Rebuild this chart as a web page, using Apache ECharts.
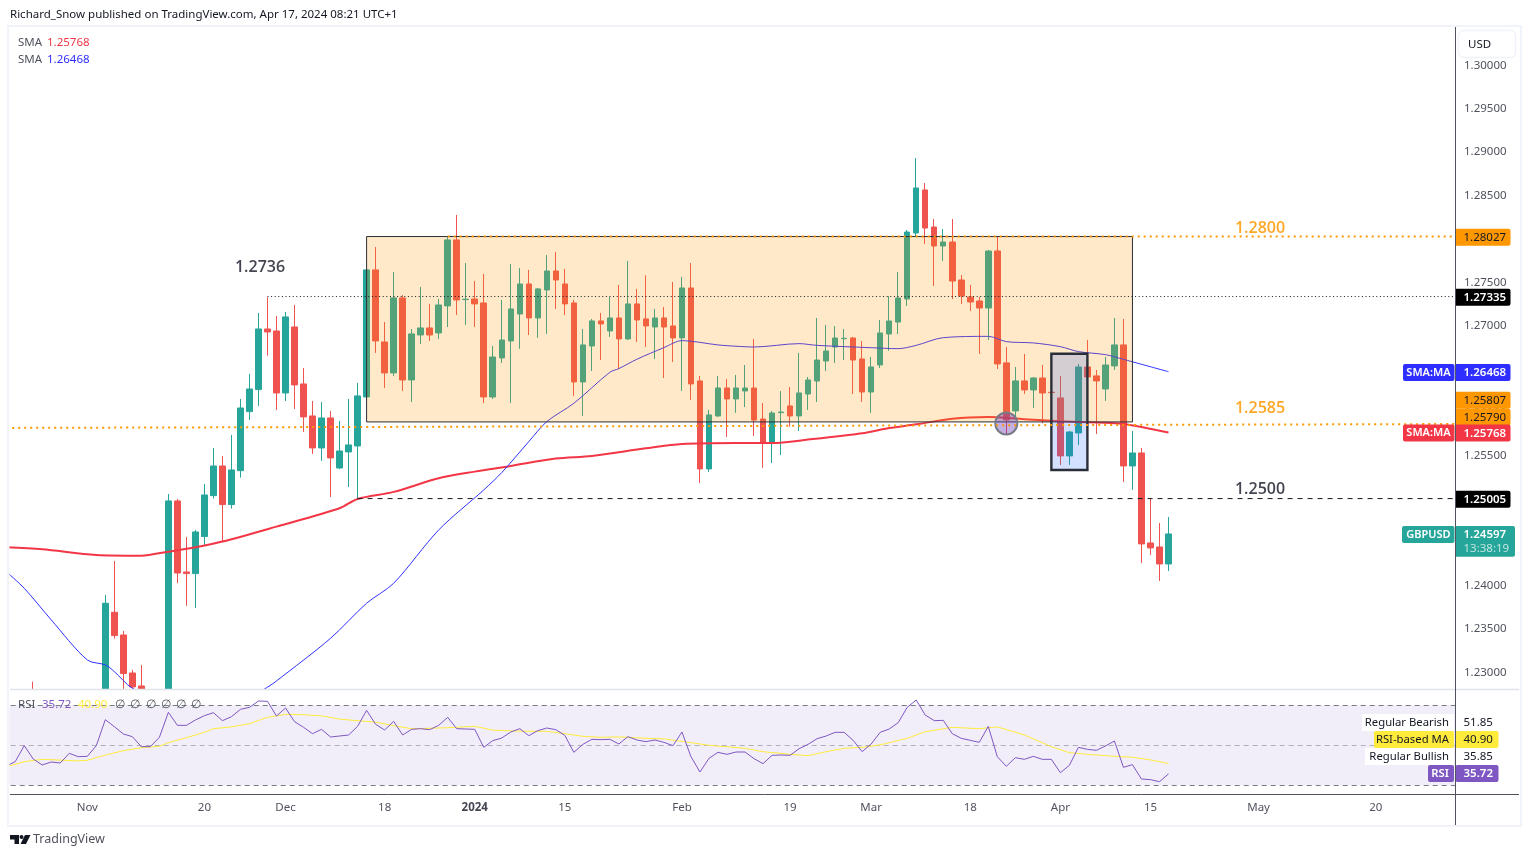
<!DOCTYPE html>
<html><head><meta charset="utf-8">
<style>html,body{margin:0;padding:0;background:#fff}#c{width:1529px;height:857px}</style>
<script src="https://cdn.jsdelivr.net/npm/echarts@6/dist/echarts.min.js"></script>
</head><body><div id="c"></div>
<script>
const opens=[null,null,null,1.2270,null,null,null,null,null,null,
null,1.2235,1.23694,1.23432,1.22994,1.22844,null,null,1.2270,1.24978,
1.24159,1.2414,1.24567,1.25039,1.25381,1.24936,1.25327,1.26008,1.26262,1.26961,
1.26938,1.26223,1.26984,1.26327,1.25958,1.25589,1.25935,1.25358,1.25543,1.25612,
1.26177,1.27642,1.26811,1.26454,1.27319,1.26373,1.26892,1.26973,1.26915,1.27227,
1.27988,1.273,1.27307,1.27261,1.26177,1.26627,1.26823,1.27134,1.2748,1.27088,
1.27411,1.2763,1.2748,1.27261,1.2635,1.26765,1.27054,1.26938,1.27088,1.26846,
1.2725,1.27077,1.26984,1.27088,1.26996,1.26858,1.27434,1.26362,1.25347,1.25958,
1.26281,1.26154,1.26246,1.2628,1.25923,1.25646,1.25996,1.26073,1.25958,1.26211,
1.26361,1.26592,1.26753,1.26849,1.26857,1.26615,1.26234,1.26546,1.26903,1.27041,
1.27307,1.28068,1.28564,1.28137,1.27918,1.27964,1.27526,1.2733,1.27284,1.27203,
1.27861,1.2657,1.26016,1.26362,1.26258,1.26396,1.26231,1.26166,1.25497,1.25762,
1.26523,1.2642,1.26269,1.26535,1.26777,1.25381,1.25531,1.24493,1.24447,1.24251];
const closes=[null,null,null,1.2262,null,null,null,null,null,null,
null,1.23798,1.23425,1.22987,1.22833,1.2265,null,null,1.24978,1.24147,
1.2414,1.2462,1.25047,1.25381,1.24936,1.25335,1.2605,1.26269,1.26961,1.26927,
1.26223,1.271,1.26316,1.25947,1.25589,1.25935,1.25474,1.25554,1.25624,1.26189,
1.27642,1.26823,1.26454,1.27319,1.26373,1.26904,1.26973,1.26892,1.27238,1.27988,
1.27296,1.27304,1.2725,1.26177,1.26638,1.26834,1.27192,1.2748,1.27088,1.27423,
1.2763,1.27526,1.2725,1.2635,1.26777,1.27054,1.27019,1.27088,1.26846,1.2725,
1.27065,1.26996,1.27088,1.26984,1.26858,1.27434,1.26327,1.25347,1.2597,1.26281,
1.26154,1.26281,1.2628,1.25911,1.25646,1.25992,1.26003,1.25958,1.26223,1.26373,
1.26603,1.26707,1.26857,1.26853,1.26603,1.26234,1.26523,1.26915,1.27053,1.27318,
1.28079,1.28587,1.28125,1.27918,1.27964,1.27514,1.27341,1.27272,1.27203,1.2786,
1.26558,1.25912,1.26362,1.26258,1.26396,1.26223,1.26227,1.25497,1.25773,1.26523,
1.26408,1.26362,1.26546,1.26777,1.25381,1.25531,1.24482,1.24436,1.24251,1.24597];
const highs=[null,null,null,1.22894,null,null,null,null,null,null,
null,1.23894,1.24286,1.23479,1.23029,1.23087,null,null,1.25058,1.25001,
1.24563,1.24643,1.25174,1.25589,1.25497,1.25739,1.26154,1.26442,1.27146,1.27327,
1.27111,1.27157,1.27238,1.26512,1.26131,1.2612,1.26016,1.259,1.26154,1.26339,
1.2765,1.27907,1.27042,1.27619,1.27353,1.26961,1.27446,1.2725,1.27307,1.28022,
1.28276,1.27722,1.27515,1.27596,1.26765,1.27296,1.27711,1.27665,1.27642,1.27434,
1.27815,1.2785,1.27653,1.27296,1.26961,1.27077,1.27146,1.2733,1.27469,1.27746,
1.27423,1.2758,1.27192,1.27215,1.27503,1.27561,1.27722,1.26419,1.26027,1.26419,
1.26385,1.26431,1.26546,1.26845,1.26107,1.26015,1.26246,1.26292,1.26684,1.26407,
1.27088,1.27007,1.26995,1.26961,1.26869,1.26822,1.26638,1.27065,1.27341,1.27618,
1.28102,1.28933,1.28644,1.28229,1.28114,1.28229,1.27583,1.27468,1.2733,1.27872,
1.28033,1.26754,1.26523,1.26673,1.26408,1.26546,1.26235,1.26419,1.25785,1.26558,
1.26834,1.26488,1.26638,1.27088,1.27077,1.25785,1.25589,1.25001,1.24724,1.24793];
const lows=[null,null,null,1.2255,null,null,null,null,null,null,
null,1.2225,1.2339,1.2275,1.2278,1.2255,null,null,1.2265,1.2403,
1.23767,1.23744,1.24463,1.25005,1.24509,1.2489,1.25247,1.25912,1.26073,1.26654,
1.26027,1.26131,1.26039,1.25774,1.2552,1.2544,1.25024,1.25347,1.25139,1.25,
1.2617,1.26685,1.26281,1.26419,1.26246,1.26119,1.26788,1.26823,1.26846,1.26984,
1.27123,1.27007,1.26984,1.26108,1.26154,1.26569,1.26108,1.26731,1.26892,1.26858,
1.26904,1.27192,1.27123,1.26189,1.25958,1.26477,1.26604,1.26869,1.265,1.26835,
1.26811,1.26754,1.26615,1.26396,1.26581,1.26246,1.26143,1.25185,1.25312,1.25947,
1.25716,1.25993,1.26061,1.25727,1.2536,1.25416,1.25508,1.25834,1.25784,1.26027,
1.26119,1.26476,1.26569,1.26603,1.26211,1.26119,1.25992,1.26511,1.2671,1.26903,
1.27226,1.28033,1.27941,1.27457,1.27745,1.27307,1.27249,1.27168,1.26673,1.26834,
1.26499,1.2575,1.25912,1.26212,1.2605,1.25873,1.26223,1.25393,1.25393,1.25623,
1.264,1.2575,1.26131,1.26488,1.25197,1.25105,1.24263,1.24355,1.24055,1.2417];
const rsiValues=[39.65,41.82,49.82,43.15,40.15,41.65,41.15,45.98,44.32,44.48,
49.82,62.82,59.32,55.65,54.32,49.32,49.32,53.98,66.48,59.98,
59.98,62.65,64.82,66.32,62.32,64.32,67.98,68.98,72.15,71.98,
64.65,68.65,61.82,58.98,55.82,57.98,54.15,54.65,55.15,59.48,
67.48,60.48,57.65,61.98,55.15,57.98,58.32,57.82,59.98,63.98,
58.32,58.15,57.98,48.98,52.32,53.65,56.65,58.32,54.82,57.32,
58.65,57.82,54.98,46.48,50.48,52.98,52.82,52.98,50.65,54.32,
52.65,51.82,52.65,51.48,49.82,56.65,44.32,36.65,43.48,46.48,
45.48,46.65,46.65,43.32,40.82,44.98,45.15,44.98,48.32,50.48,
53.32,54.65,56.48,56.48,52.48,46.82,50.65,56.48,58.15,61.32,
68.98,72.65,65.15,62.32,62.48,55.82,53.48,52.48,51.48,59.48,
44.32,39.48,43.82,42.98,44.48,42.98,42.98,36.32,39.98,48.98,
47.98,47.48,49.65,52.15,38.98,40.32,33.15,32.82,31.82,35.72];
const rsiMaIndex=[0,2,4,6,8,9,11,13,15,17,18,20,22,23,25,27,29,31,33,35,37,39,41,43,45,47,49,52,54,56,58,60,62,64,66,68,71,73,75,78,82,84,87,89,91,93,95,97,100,102,105,108,110,113,116,118,120,123,125,127,129];
const rsiMaValues=[39.2,41.8,43,42.6,42.2,42.5,45.1,47.3,48.8,49.5,51.3,53.8,56.5,58.3,59.2,60.8,64,65.5,65.3,64.7,63.1,62.3,61.6,59.8,58.3,58.5,58.8,59.5,57.6,57.2,57,57,55.8,54.5,54,54.2,53.5,53.2,52,50,48.5,46.8,45.5,44.8,46.8,48.5,49,50.2,53.5,56.8,59,58.3,59.2,55.2,49.3,46.3,45.5,44.5,44,42.7,40.9];
const sma200Index=[0,4,10,15,18,21,24,30,37,39,43,48,52,56,61,65,71,75,81,85,89,95,98,101,105,109,113,117,121,124,129];
const sma200Values=[1.24443,1.2442,1.24355,1.24347,1.24393,1.24443,1.24509,1.24682,1.24893,1.25001,1.25082,1.25239,1.25316,1.25381,1.25466,1.25497,1.25585,1.25635,1.25647,1.25646,1.25685,1.25758,1.25819,1.25861,1.25927,1.25946,1.2592,1.25897,1.25881,1.25866,1.25768];
const sma50Index=[0,2,5,9,11,12,14,18,22,26,29,30,36,40,43,48,53,55,58,60,63,67,68,70,73,75,79,81,83,88,90,96,99,101,104,109,111,114,117,119,122,124,126,129];
const sma50Values=[1.24163,1.23971,1.23606,1.23144,1.23087,1.2301,1.22818,1.2265,1.2255,1.2265,1.2283,1.22902,1.23394,1.23798,1.24028,1.24643,1.25105,1.25305,1.25662,1.25893,1.26104,1.26462,1.26504,1.26612,1.26746,1.26827,1.26777,1.26762,1.26753,1.26792,1.26772,1.26745,1.26734,1.26772,1.26861,1.26876,1.26815,1.268,1.26757,1.267,1.26665,1.26611,1.26554,1.26468];
const tickIndex=[9,22,31,42,52,62,75,87,96,107,117,127,139,152];
const tickLabels=['Nov','20','Dec','18','2024','15','Feb','19','Mar','18','Apr','15','May','20'];
const priceTicks=[1.30,1.295,1.29,1.285,1.28,1.275,1.27,1.265,1.26,1.255,1.25,1.245,1.24,1.235,1.23];
const tagValues=[1.28027,1.27335,1.26468,1.25807,1.2579,1.25768,1.25005];
const tagFill=['#ff9800','#000000','#2e2eff','#ff9800','#ff9800','#f23645','#000000'];
const tagInk=['#131722','#ffffff','#ffffff','#131722','#131722','#ffffff','#ffffff'];
const tagShift=[0,0,0,-29.6,-14,0,0];
const tagNames=['','','SMA:MA','','','SMA:MA',''];

const FONT='"Noto Sans",sans-serif';
const BARS=162, PLOT_R=1455, FRAME_L=9.5, FRAME_R=1519;
const labelByIndex={};tickIndex.forEach((k,n)=>labelByIndex[k]=tickLabels[n]);
const cats=Array.from({length:BARS},(_,k)=>labelByIndex[k]||'');
const candles=opens.map((o,k)=>[o,closes[k],lows[k],highs[k]]);
const rsiPairs=rsiValues.map((v,k)=>[k,v]);
const pairs=(a,b)=>a.map((k,n)=>[k,b[n]]);

const boxRange=[40,125,1.28027,1.25889];
const inner=[116,120,1.26676,1.25335];
const circle=[111,1.25871];
const hLines=[
 {from:49,a:1.28027,b:1.28027,color:'#ff9800',w:2,dash:[2,4]},
 {from:29,a:1.27335,b:1.27335,color:'#131722',w:1,dash:[1,2.6]},
 {from:39,a:1.25005,b:1.25005,color:'#131722',w:1,dash:[5,5]},
 {from:0,a:1.2582,b:1.25865,color:'#ff9800',w:2,dash:[2,4]}
];
const notes=[
 {k:25,p:1.27667,text:'1.2736',color:'#434651',dx:3.5},
 {k:137,p:1.2812,text:'1.2800',color:'#ffa726',dx:-5.6},
 {k:137,p:1.2604,text:'1.2585',color:'#ffa726',dx:-5.6},
 {k:137,p:1.2511,text:'1.2500',color:'#434651',dx:-5.6}
];
function annotate(params,api){
 const n=params.dataIndex, cs=params.coordSys;
 if(n===0){
  const a=api.coord([boxRange[0],boxRange[2]]),b=api.coord([boxRange[1],boxRange[3]]);
  return {type:'rect',shape:{x:a[0],y:a[1],width:b[0]-a[0],height:b[1]-a[1]},style:{fill:'rgba(255,152,0,0.21)',stroke:'#2a2e39',lineWidth:1}};
 }
 if(n===1){
  const a=api.coord([inner[0],inner[2]]),b=api.coord([inner[1],inner[3]]);
  return {type:'rect',shape:{x:a[0],y:a[1],width:b[0]-a[0],height:b[1]-a[1]},style:{fill:'rgba(41,98,255,0.2)',stroke:'#2a2e39',lineWidth:2.4}};
 }
 if(n===2){
  const c=api.coord(circle);
  return {type:'circle',shape:{cx:c[0],cy:c[1],r:11},style:{fill:'rgba(103,58,183,0.4)',stroke:'#787b86',lineWidth:2}};
 }
 if(n<7){
  const h=hLines[n-3];
  const a=api.coord([h.from,h.a]),b=api.coord([h.from,h.b]);
  return {type:'line',shape:{x1:a[0],y1:a[1],x2:cs.x+cs.width,y2:b[1]},style:{stroke:h.color,lineWidth:h.w,lineDash:h.dash,fill:null}};
 }
 const t=notes[n-7];
 const c=api.coord([t.k,t.p]);
 return {type:'text',x:c[0]+t.dx,y:c[1],style:{text:t.text,fill:t.color,font:'600 16px "Open Sans",sans-serif',textAlign:'left',textVerticalAlign:'middle'}};
}
const annotationRows=Array.from({length:7+notes.length},(_,k)=>[k]);

function tag(params,api){
 const n=params.dataIndex;
 const y=api.coord([0,tagValues[n]])[1]+tagShift[n];
 const kids=[{type:'rect',shape:{x:PLOT_R+0.5,y:y-7.8,width:55,height:17,r:[0,2,2,0]},style:{fill:tagFill[n]}},
  {type:'text',x:PLOT_R+8.5,y:y+0.8,style:{text:tagValues[n].toFixed(5),fill:tagInk[n],font:(tagInk[n]==='#ffffff'?'600 ':'')+'11.5px '+FONT,textVerticalAlign:'middle'}}];
 if(tagNames[n]){
  kids.push({type:'rect',shape:{x:PLOT_R-52,y:y-7.8,width:51.5,height:17,r:2},style:{fill:tagFill[n]}});
  kids.push({type:'text',x:PLOT_R-26.5,y:y+0.8,style:{text:tagNames[n],fill:'#fff',font:'600 11px '+FONT,textAlign:'center',textVerticalAlign:'middle'}});
 }
 return {type:'group',children:kids};
}
function lastTag(params,api){
 const y=api.coord([129,closes[129]])[1];
 return {type:'group',children:[
  {type:'rect',shape:{x:PLOT_R-53,y:y-8,width:52.5,height:17,r:2},style:{fill:'#26a69a'}},
  {type:'text',x:PLOT_R-26.5,y:y+0.8,style:{text:'GBPUSD',fill:'#fff',font:'600 11px '+FONT,textAlign:'center',textVerticalAlign:'middle'}},
  {type:'rect',shape:{x:PLOT_R+0.5,y:y-8,width:59.5,height:30.7,r:[0,2,2,0]},style:{fill:'#26a69a'}},
  {type:'text',x:PLOT_R+8.5,y:y+0.8,style:{text:closes[129].toFixed(5),fill:'#fff',font:'600 11.5px '+FONT,textVerticalAlign:'middle'}},
  {type:'text',x:PLOT_R+8.5,y:y+14.8,style:{text:'13:38:19',fill:'#bfe4e0',font:'11.5px '+FONT,textVerticalAlign:'middle'}}
 ]};
}
const rsiLevels=[70,50,30];
function rsiBand(params,api){
 const cs=params.coordSys,n=params.dataIndex;
 if(n===0){
  const a=api.coord([0,rsiLevels[0]])[1],b=api.coord([0,rsiLevels[2]])[1];
  return {type:'group',children:[
   {type:'rect',shape:{x:cs.x,y:cs.y,width:cs.width,height:cs.height},style:{fill:'#fff'}},
   {type:'rect',shape:{x:cs.x,y:a,width:cs.width,height:b-a},style:{fill:'rgba(126,87,194,0.1)'}}
  ]};
 }
 const lv=rsiLevels[n-1],y=Math.round(api.coord([0,lv])[1])+0.5;
 return {type:'line',shape:{x1:cs.x,y1:y,x2:cs.x+cs.width,y2:y},style:{stroke:lv===50?'rgba(120,123,134,0.55)':'#787b86',lineWidth:1,lineDash:[5,4]}};
}
const txt=(x,y,text,fill,size,extra)=>({type:'text',x,y,z:60,style:Object.assign({text,fill,font:size+'px '+FONT,textVerticalAlign:'middle'},extra||{})});
const rsiSide=[[1362,714,'Regular Bearish','51.85','#ffffff','#131722',null],[1374,731,'RSI-based MA','40.90','#ffeb3b','#131722','#ffeb3b'],[1365,748,'Regular Bullish','35.85','#ffffff','#131722',null],[1428,765,'RSI','35.72','#7e57c2','#ffffff','#7e57c2']];
const furniture=[
 {type:'rect',z:40,shape:{x:0,y:0,width:FRAME_L,height:857},style:{fill:'#fff'}},
 {type:'rect',z:40,shape:{x:PLOT_R,y:0,width:74,height:857},style:{fill:'#fff'}},
 {type:'rect',z:62,shape:{x:8,y:26,width:1513,height:800},style:{fill:'none',stroke:'#f0f3fa',lineWidth:2}},
 {type:'line',z:62,shape:{x1:10,y1:689.5,x2:FRAME_R,y2:689.5},style:{stroke:'#e0e3eb',lineWidth:1.5}},
 {type:'line',z:62,shape:{x1:10,y1:794.5,x2:FRAME_R,y2:794.5},style:{stroke:'#50535e',lineWidth:1}},
 {type:'line',z:62,shape:{x1:1455.5,y1:27,x2:1455.5,y2:825},style:{stroke:'#50535e',lineWidth:1}},
 {type:'rect',z:59,shape:{x:1458.5,y:30.5,width:57,height:27,r:5},style:{fill:'#fff',stroke:'#f0f3fa',lineWidth:1.5}},
 txt(1468,44.5,'USD','#131722',11.5),
 txt(10,15,'Richard_Snow published on TradingView.com, Apr 17, 2024 08:21 UTC+1','#131722',11.5),
 txt(18,42.5,'SMA','#50535e',11.5),txt(47,42.5,'1.25768','#f23645',11.5),
 txt(18,59.5,'SMA','#50535e',11.5),txt(47,59.5,'1.26468','#2e2eff',11.5),
 txt(18,705,'RSI','#50535e',11.5),txt(42,705,'35.72','#7e57c2',11.5),txt(78,705,'40.90','#ffeb3b',11.5),
 ...[115,130,146,161,176,191].map(x=>txt(x,705,'∅','#50535e',12)),
 txt(33,839.5,'TradingView','#50535e',12.5),
 {type:'polygon',z:60,shape:{points:[[10,835],[19,835],[19,844],[14.5,844],[14.5,839.5],[10,839.5]]},style:{fill:'#131722'}},
 {type:'circle',z:60,shape:{cx:21.5,cy:837,r:2},style:{fill:'#131722'}},
 {type:'polygon',z:60,shape:{points:[[25,835],[30.5,835],[26,844],[20.5,844]]},style:{fill:'#131722'}}
];
rsiSide.forEach(r=>{
 const w=r[2]==='RSI'?'600 ':'';
 furniture.push({type:'rect',z:59,shape:{x:r[0],y:r[1],width:1454-r[0],height:17,r:r[6]?2:0},style:{fill:r[4]}});
 furniture.push(txt(1449,r[1]+8.8,r[2],r[5],w+'11.3',{textAlign:'right'}));
 if(r[6])furniture.push({type:'rect',z:59,shape:{x:1455.5,y:r[1],width:43,height:17,r:2},style:{fill:r[6]}});
 furniture.push(txt(1463.5,r[1]+8.8,r[3],r[5],w+'11.5'));
});

const chart=echarts.init(document.getElementById('c'),null,{renderer:'canvas'});
chart.setOption({
 animation:false,backgroundColor:'#fff',
 textStyle:{fontFamily:FONT},
 grid:[{left:1.7,top:28,width:9.01*BARS,height:661},{left:1.7,top:690,width:9.01*BARS,height:104}],
 graphic:{elements:furniture},
 xAxis:[
  {type:'category',gridIndex:0,data:cats,show:false,boundaryGap:true},
  {type:'category',gridIndex:1,data:cats,boundaryGap:true,axisLine:{show:false},axisTick:{show:false},splitLine:{show:false},z:50,
   axisLabel:{interval:(k)=>labelByIndex[k]!==undefined,hideOverlap:false,margin:8,color:'#50535e',fontSize:11.5,fontFamily:FONT,
    formatter:v=>v==='2024'?'{y|2024}':v,rich:{y:{fontWeight:700,fontSize:11.5,color:'#434651',fontFamily:FONT}}}}
 ],
 yAxis:[
  {type:'value',gridIndex:0,position:'right',min:1.22809,max:1.30432,z:45,splitLine:{show:false},axisLine:{show:false},axisTick:{show:false},
   axisLabel:{customValues:priceTicks,margin:2.7,padding:[2,0,0,0],color:'#50535e',fontSize:11.5,fontFamily:FONT,formatter:v=>(+v).toFixed(5)}},
  {type:'value',gridIndex:1,min:25.65,max:77.65,show:false,splitLine:{show:false}}
 ],
 series:[
  {type:'candlestick',name:'GBPUSD',xAxisIndex:0,yAxisIndex:0,data:candles,barWidth:6,z:3,
   itemStyle:{color:'#26a69a',color0:'#ef5350',borderColor:'#26a69a',borderColor0:'#ef5350',borderWidth:1}},
  {type:'line',name:'SMA200',xAxisIndex:0,yAxisIndex:0,data:pairs(sma200Index,sma200Values),showSymbol:false,smooth:0.3,z:4,lineStyle:{color:'#f23645',width:2}},
  {type:'line',name:'SMA50',xAxisIndex:0,yAxisIndex:0,data:pairs(sma50Index,sma50Values),showSymbol:false,smooth:0.3,z:4,lineStyle:{color:'#3030ff',width:1}},
  {type:'custom',name:'drawings',xAxisIndex:0,yAxisIndex:0,renderItem:annotate,data:annotationRows,z:10,silent:true},
  {type:'custom',name:'priceTags',xAxisIndex:0,yAxisIndex:0,renderItem:tag,data:tagValues.map((v,k)=>[k,v]),z:55,silent:true},
  {type:'custom',name:'lastTag',xAxisIndex:0,yAxisIndex:0,renderItem:lastTag,data:[[129,closes[129]]],z:56,silent:true},
  {type:'custom',name:'rsiBand',xAxisIndex:1,yAxisIndex:1,renderItem:rsiBand,data:[[0],[1],[2],[3]],z:5,silent:true},
  {type:'line',name:'RSI',xAxisIndex:1,yAxisIndex:1,data:rsiPairs,showSymbol:false,z:7,lineStyle:{color:'#7e57c2',width:1}},
  {type:'line',name:'RSI MA',xAxisIndex:1,yAxisIndex:1,data:pairs(rsiMaIndex,rsiMaValues),showSymbol:false,z:6,lineStyle:{color:'#ffeb3b',width:1}}
 ]
});
</script></body></html>
